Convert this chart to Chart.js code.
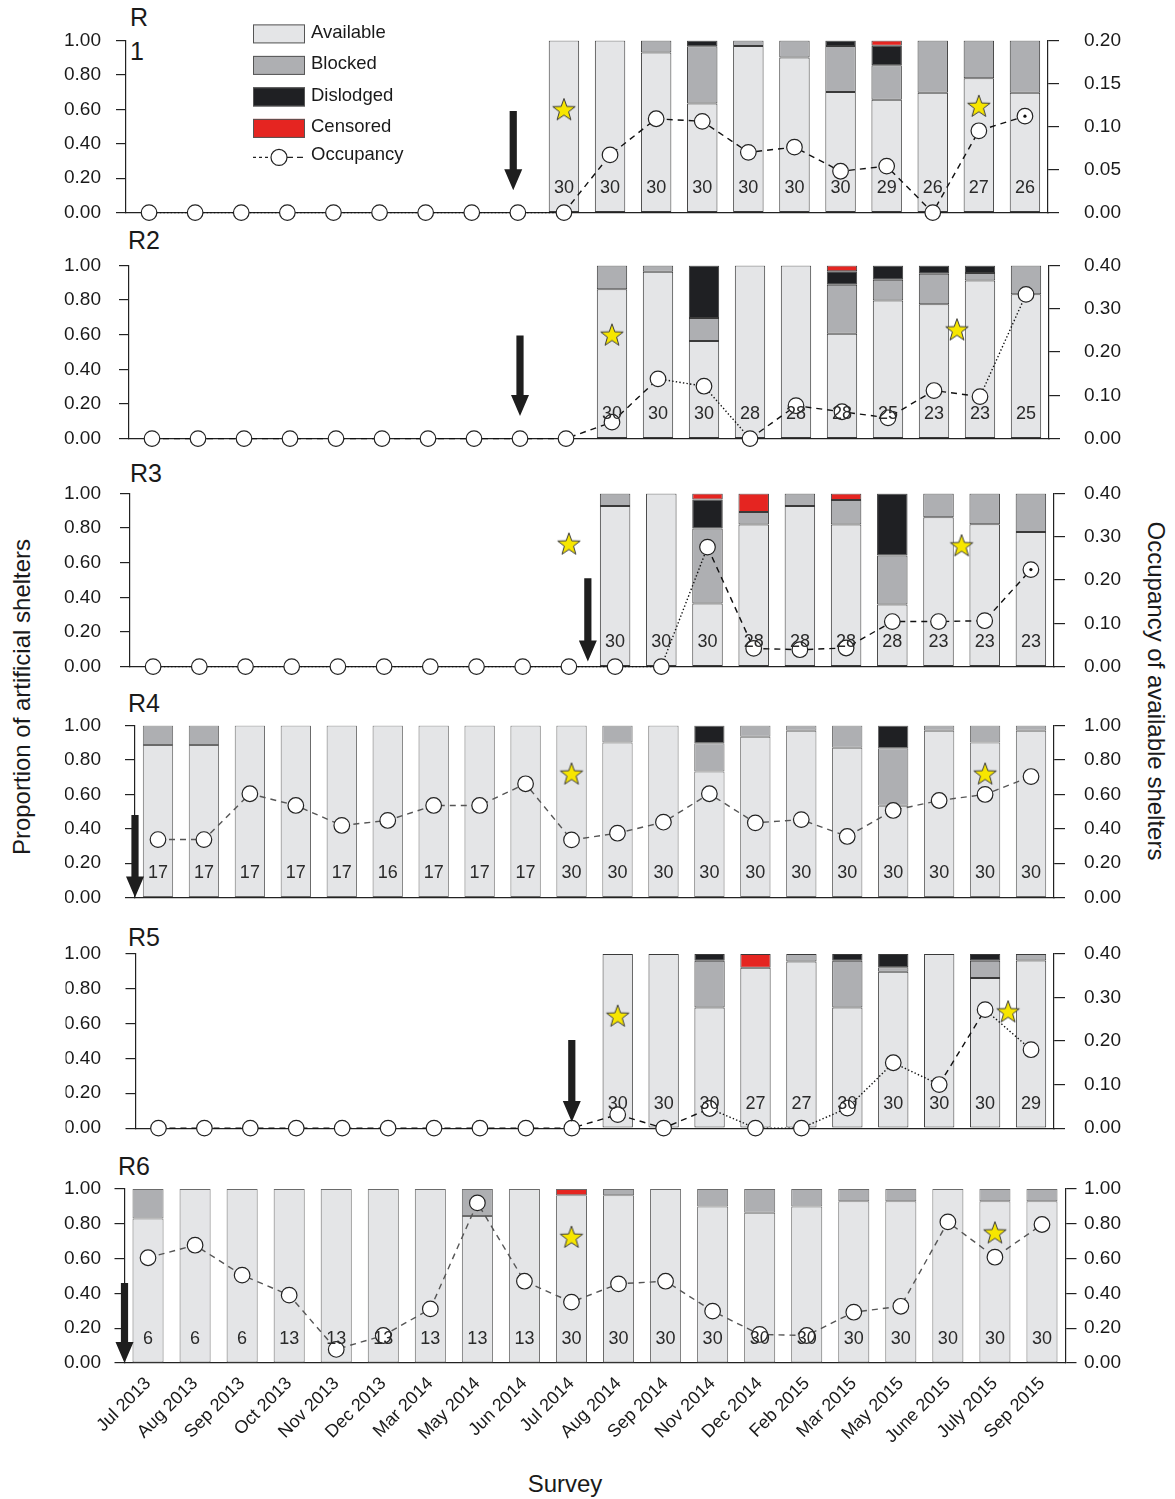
<!DOCTYPE html>
<html>
<head>
<meta charset="utf-8">
<script src="https://cdn.jsdelivr.net/npm/chart.js@4.4.1/dist/chart.umd.min.js"></script>
<style>
  body { margin: 0; background: #fff; width: 1175px; height: 1499px; position: relative; overflow: hidden;
         font-family: "Liberation Sans", Arial, sans-serif; color: #1a1a1a; }
  canvas { position: absolute; left: 0; }
  .ttl { position: absolute; font-size: 25px; line-height: 1; }
  .axt { position: absolute; font-size: 24px; line-height: 1; white-space: nowrap; }
</style>
</head>
<body>
<div class="ttl" style="left:130px;top:0;line-height:34px">R<br>1</div>
<div class="ttl" style="left:128px;top:228px">R2</div>
<div class="ttl" style="left:130px;top:461px">R3</div>
<div class="ttl" style="left:128px;top:691px">R4</div>
<div class="ttl" style="left:128px;top:925px">R5</div>
<div class="ttl" style="left:118px;top:1154px">R6</div>
<div class="axt" style="left:22px;top:697px;transform:translate(-50%,-50%) rotate(-90deg)">Proportion of artificial shelters</div>
<div class="axt" style="left:1156px;top:691px;transform:translate(-50%,-50%) rotate(90deg)">Occupancy of available shelters</div>
<div class="axt" style="left:565px;top:1472px;transform:translateX(-50%)">Survey</div>
<script>
const surveys = ['Jul 2013', 'Aug 2013', 'Sep 2013', 'Oct 2013', 'Nov 2013', 'Dec 2013', 'Mar 2014', 'May 2014',
  'Jun 2014', 'Jul 2014', 'Aug 2014', 'Sep 2014', 'Nov 2014', 'Dec 2014', 'Feb 2015', 'Mar 2015', 'May 2015',
  'June 2015', 'July 2015', 'Sep 2015'];

// R1
const r1Available = [null, null, null, null, null, null, null, null, null, 1, 1, 0.93, 0.633, 0.967, 0.9, 0.70, 0.655, 0.696, 0.78, 0.696];
const r1Blocked   = [null, null, null, null, null, null, null, null, null, 0, 0, 0.07, 0.333, 0.033, 0.1, 0.267, 0.2, 0.304, 0.22, 0.304];
const r1Dislodged = [null, null, null, null, null, null, null, null, null, 0, 0, 0, 0.034, 0, 0, 0.033, 0.114, 0, 0, 0];
const r1Censored  = [null, null, null, null, null, null, null, null, null, 0, 0, 0, 0, 0, 0, 0, 0.031, 0, 0, 0];
const r1N         = [null, null, null, null, null, null, null, null, null, 30, 30, 30, 30, 30, 30, 30, 29, 26, 27, 26];
const r1Occupancy = [0, 0, 0, 0, 0, 0, 0, 0, 0, 0, 0.067, 0.109, 0.106, 0.070, 0.076, 0.048, 0.054, 0, 0.095, 0.112];
const r1Stars = [[9, 0.60], [18, 0.62]];
const r1Arrow = [7.9, 0.59, 0.13];

// R2
const r2Available = [null, null, null, null, null, null, null, null, null, null, 0.862, 0.963, 0.563, 1, 1, 0.606, 0.798, 0.775, 0.913, 0.833];
const r2Blocked   = [null, null, null, null, null, null, null, null, null, null, 0.138, 0.037, 0.133, 0, 0, 0.283, 0.119, 0.177, 0.043, 0.167];
const r2Dislodged = [null, null, null, null, null, null, null, null, null, null, 0, 0, 0.304, 0, 0, 0.077, 0.083, 0.048, 0.044, 0];
const r2Censored  = [null, null, null, null, null, null, null, null, null, null, 0, 0, 0, 0, 0, 0.034, 0, 0, 0, 0];
const r2N         = [null, null, null, null, null, null, null, null, null, null, 30, 30, 30, 28, 28, 28, 25, 23, 23, 25];
const r2Occupancy = [0, 0, 0, 0, 0, 0, 0, 0, 0, 0, 0.038, 0.138, 0.121, 0, 0.076, 0.062, 0.048, 0.111, 0.097, 0.333];
const r2Stars = [[10, 0.60], [17.5, 0.63]];
const r2Arrow = [8, 0.595, 0.13];

// R3
const r3Available = [null, null, null, null, null, null, null, null, null, null, 0.927, 1, 0.365, 0.821, 0.927, 0.82, 0.359, 0.862, 0.822, 0.777];
const r3Blocked   = [null, null, null, null, null, null, null, null, null, null, 0.073, 0, 0.432, 0.071, 0.073, 0.142, 0.282, 0.138, 0.178, 0.223];
const r3Dislodged = [null, null, null, null, null, null, null, null, null, null, 0, 0, 0.168, 0, 0, 0, 0.359, 0, 0, 0];
const r3Censored  = [null, null, null, null, null, null, null, null, null, null, 0, 0, 0.035, 0.108, 0, 0.038, 0, 0, 0, 0];
const r3N         = [null, null, null, null, null, null, null, null, null, null, 30, 30, 30, 28, 28, 28, 28, 23, 23, 23];
const r3Occupancy = [0, 0, 0, 0, 0, 0, 0, 0, 0, 0, 0, 0, 0.276, 0.042, 0.039, 0.043, 0.104, 0.104, 0.106, 0.224];
const r3Stars = [[9, 0.71], [17.5, 0.70]];
const r3Arrow = [9.41, 0.51, 0.03];

// R4
const r4Available = [0.886, 0.886, 1, 1, 1, 1, 1, 1, 1, 1, 0.9, 1, 0.733, 0.934, 0.969, 0.87, 0.534, 0.969, 0.9, 0.969];
const r4Blocked   = [0.114, 0.114, 0, 0, 0, 0, 0, 0, 0, 0, 0.1, 0, 0.163, 0.066, 0.031, 0.13, 0.334, 0.031, 0.1, 0.031];
const r4Dislodged = [0, 0, 0, 0, 0, 0, 0, 0, 0, 0, 0, 0, 0.104, 0, 0, 0, 0.132, 0, 0, 0];
const r4Censored  = [0, 0, 0, 0, 0, 0, 0, 0, 0, 0, 0, 0, 0, 0, 0, 0, 0, 0, 0, 0];
const r4N         = [17, 17, 17, 17, 17, 16, 17, 17, 17, 30, 30, 30, 30, 30, 30, 30, 30, 30, 30, 30];
const r4Occupancy = [0.337, 0.337, 0.603, 0.535, 0.419, 0.448, 0.535, 0.535, 0.661, 0.335, 0.374, 0.438, 0.603, 0.434, 0.453, 0.355, 0.506, 0.564, 0.599, 0.703];
const r4Stars = [[9, 0.72], [18, 0.72]];
const r4Arrow = [-0.5, 0.48, 0];

// R5
const r5Available = [null, null, null, null, null, null, null, null, null, null, 1, 1, 0.692, 0.92, 0.956, 0.692, 0.897, 1, 0.862, 0.962];
const r5Blocked   = [null, null, null, null, null, null, null, null, null, null, 0, 0, 0.268, 0, 0.044, 0.268, 0.027, 0, 0.098, 0.038];
const r5Dislodged = [null, null, null, null, null, null, null, null, null, null, 0, 0, 0.04, 0, 0, 0.04, 0.076, 0, 0.04, 0];
const r5Censored  = [null, null, null, null, null, null, null, null, null, null, 0, 0, 0, 0.08, 0, 0, 0, 0, 0, 0];
const r5N         = [null, null, null, null, null, null, null, null, null, null, 30, 30, 30, 27, 27, 30, 30, 30, 30, 29];
const r5Occupancy = [0, 0, 0, 0, 0, 0, 0, 0, 0, 0, 0.031, 0, 0.045, 0, 0, 0.046, 0.15, 0.10, 0.272, 0.18];
const r5Stars = [[10, 0.645], [18.5, 0.67]];
const r5Arrow = [9, 0.506, 0.035];

// R6
const r6Available = [0.83, 1, 1, 1, 1, 1, 1, 0.845, 1, 0.964, 0.964, 1, 0.9, 0.864, 0.9, 0.93, 0.93, 1, 0.93, 0.93];
const r6Blocked   = [0.17, 0, 0, 0, 0, 0, 0, 0.155, 0, 0, 0.036, 0, 0.1, 0.136, 0.1, 0.07, 0.07, 0, 0.07, 0.07];
const r6Dislodged = [0, 0, 0, 0, 0, 0, 0, 0, 0, 0, 0, 0, 0, 0, 0, 0, 0, 0, 0, 0];
const r6Censored  = [0, 0, 0, 0, 0, 0, 0, 0, 0, 0.036, 0, 0, 0, 0, 0, 0, 0, 0, 0, 0];
const r6N         = [6, 6, 6, 13, 13, 13, 13, 13, 13, 30, 30, 30, 30, 30, 30, 30, 30, 30, 30, 30];
const r6Occupancy = [0.605, 0.677, 0.505, 0.39, 0.078, 0.158, 0.311, 0.92, 0.47, 0.35, 0.455, 0.47, 0.298, 0.164, 0.158, 0.292, 0.326, 0.811, 0.608, 0.796];
const r6Stars = [[9, 0.725], [18, 0.75]];
const r6Arrow = [-0.5, 0.46, 0];

const occMax  = [0.20, 0.40, 0.40, 1.00, 0.40, 1.00];
const occStep = [0.05, 0.10, 0.10, 0.20, 0.10, 0.20];

// layout and line styles (o = dotted segment, d = dashed segment)
const boxes = [
  { top: 40, bottom: 212, left: 126, right: 1048 },
  { top: 265, bottom: 438, left: 129, right: 1049 },
  { top: 493, bottom: 666, left: 130, right: 1054 },
  { top: 725, bottom: 897, left: 135, right: 1054 },
  { top: 954, bottom: 1128, left: 135.5, right: 1054 },
  { top: 1189, bottom: 1363, left: 124.5, right: 1065.5 }
];
const segStyle = [
  'ooooooooodddddddddd',
  'dddddddddddoodddddo',
  'ooooooooooooddddddd',
  'ddddddddddddddddddd',
  'ddddddddddddooooodo',
  'ddddddddddddddddddd'
];
const lineColor = ['#111', '#111', '#111', '#555', '#111', '#555'];
const centerDot = [true, false, true, false, false, false];

const panels = [
  [r1Available, r1Blocked, r1Dislodged, r1Censored, r1N, r1Occupancy, r1Stars, r1Arrow],
  [r2Available, r2Blocked, r2Dislodged, r2Censored, r2N, r2Occupancy, r2Stars, r2Arrow],
  [r3Available, r3Blocked, r3Dislodged, r3Censored, r3N, r3Occupancy, r3Stars, r3Arrow],
  [r4Available, r4Blocked, r4Dislodged, r4Censored, r4N, r4Occupancy, r4Stars, r4Arrow],
  [r5Available, r5Blocked, r5Dislodged, r5Censored, r5N, r5Occupancy, r5Stars, r5Arrow],
  [r6Available, r6Blocked, r6Dislodged, r6Censored, r6N, r6Occupancy, r6Stars, r6Arrow]
];

const FONT = '"Liberation Sans", Arial, sans-serif';
Chart.defaults.font.family = FONT;
Chart.defaults.font.size = 19;
Chart.defaults.color = '#1a1a1a';

function makeStar() {
  const c = document.createElement('canvas');
  c.width = 26; c.height = 26;
  const g = c.getContext('2d');
  g.beginPath();
  for (let k = 0; k < 10; k++) {
    const r = k % 2 ? 4.8 : 11.8;
    const a = -Math.PI / 2 + k * Math.PI / 5;
    g.lineTo(13 + r * Math.cos(a), 14 + r * Math.sin(a));
  }
  g.closePath();
  g.fillStyle = '#f7e600';
  g.fill();
  g.strokeStyle = '#3a3a3a';
  g.lineWidth = 1;
  g.stroke();
  return c;
}
const starImg = makeStar();

const countLabels = {
  id: 'countLabels',
  afterDatasetsDraw(chart, args, opts) {
    const { ctx, scales: { x, y } } = chart;
    ctx.save();
    ctx.font = '18px ' + FONT;
    ctx.fillStyle = '#2a2a2a';
    ctx.textAlign = 'center';
    ctx.textBaseline = 'middle';
    opts.n.forEach((v, i) => {
      if (v != null) ctx.fillText(String(v), x.getPixelForValue(i), y.getPixelForValue(0.14));
    });
    if (opts.dot) {
      const meta = chart.getDatasetMeta(4);
      const pt = meta.data[meta.data.length - 1];
      ctx.beginPath();
      ctx.arc(pt.x, pt.y, 1.6, 0, Math.PI * 2);
      ctx.fillStyle = '#111';
      ctx.fill();
    }
    ctx.restore();
  }
};

const arrows = {
  id: 'arrows',
  afterDatasetsDraw(chart, args, opts) {
    const { ctx, scales: { xs, y } } = chart;
    const [ax, a0, a1] = opts.arrow;
    const x = xs.getPixelForValue(ax), yTop = y.getPixelForValue(a0), yTip = y.getPixelForValue(a1);
    const shaft = 3.6, head = 9, headLen = 21;
    ctx.save();
    ctx.fillStyle = '#1e1e1e';
    ctx.beginPath();
    ctx.moveTo(x - shaft, yTop);
    ctx.lineTo(x + shaft, yTop);
    ctx.lineTo(x + shaft, yTip - headLen);
    ctx.lineTo(x + head, yTip - headLen);
    ctx.lineTo(x, yTip);
    ctx.lineTo(x - head, yTip - headLen);
    ctx.lineTo(x - shaft, yTip - headLen);
    ctx.closePath();
    ctx.fill();
    ctx.restore();
  }
};

const legendBox = {
  id: 'legendBox',
  afterDraw(chart, args, opts) {
    if (!opts.show) return;
    const { ctx, chartArea } = chart;
    const x0 = chartArea.left + 127, y0 = chartArea.top - 16;
    ctx.save();
    ctx.font = '18.5px ' + FONT;
    ctx.textBaseline = 'middle';
    const sets = chart.data.datasets;
    for (let k = 0; k < 4; k++) {
      const yy = y0 + k * 31.5;
      ctx.fillStyle = sets[k].backgroundColor;
      ctx.fillRect(x0, yy, 52, 19);
      ctx.strokeStyle = '#555';
      ctx.lineWidth = 1;
      ctx.strokeRect(x0 + 0.5, yy + 0.5, 51, 18);
      ctx.fillStyle = '#1a1a1a';
      ctx.fillText(sets[k].label, x0 + 58, yy + 8.5);
    }
    const yo = y0 + 133;
    ctx.strokeStyle = '#222';
    ctx.lineWidth = 1.3;
    ctx.setLineDash([3, 3]);
    ctx.beginPath(); ctx.moveTo(x0, yo); ctx.lineTo(x0 + 18, yo); ctx.stroke();
    ctx.setLineDash([6, 4]);
    ctx.beginPath(); ctx.moveTo(x0 + 34, yo); ctx.lineTo(x0 + 52, yo); ctx.stroke();
    ctx.setLineDash([]);
    ctx.beginPath(); ctx.arc(x0 + 26, yo, 8, 0, Math.PI * 2);
    ctx.fillStyle = '#fff'; ctx.fill(); ctx.lineWidth = 1.2; ctx.stroke();
    ctx.fillStyle = '#1a1a1a';
    ctx.fillText(sets[4].label, x0 + 58, yo - 2);
    ctx.restore();
  }
};

const barColors = ['#e4e5e7', '#aeafb2', '#1f2023', '#e52521'];
const barNames = ['Available', 'Blocked', 'Dislodged', 'Censored'];
const PT = 30, PB = 12;

function makeConfig(p, i, xh) {
  const box = boxes[i];
  const last = i === panels.length - 1;
  const style = segStyle[i];
  const datasets = barNames.map((name, k) => ({
    type: 'bar',
    label: name,
    data: p[k].map(v => (v ? v : null)),
    backgroundColor: barColors[k],
    borderColor: i === 3 || i === 5 ? '#6a6a6a' : '#3a3a3a',
    borderWidth: 1,
    borderSkipped: false,
    barPercentage: 0.66,
    categoryPercentage: 1,
    grouped: false,
    xAxisID: 'x',
    yAxisID: 'y',
    order: 3
  }));
  datasets.push({
    type: 'line',
    label: 'Occupancy',
    data: p[5],
    xAxisID: 'x',
    yAxisID: 'y1',
    borderColor: lineColor[i],
    borderWidth: 1.4,
    tension: 0,
    clip: false,
    pointRadius: 7.8,
    pointBackgroundColor: '#fff',
    pointBorderColor: '#222',
    pointBorderWidth: 1.2,
    segment: {
      borderDash: ctx => (style[ctx.p0DataIndex] === 'o' ? [1.4, 2.2] : [6, 5])
    },
    order: 1
  });
  datasets.push({
    type: 'line',
    label: 'stars',
    data: p[6].map(s => ({ x: s[0], y: s[1] })),
    xAxisID: 'xs',
    yAxisID: 'y',
    showLine: false,
    pointStyle: starImg,
    pointRadius: 12,
    clip: false,
    order: 0
  });

  return {
    type: 'bar',
    data: { labels: surveys, datasets },
    options: {
      responsive: false,
      devicePixelRatio: 1,
      animation: false,
      events: [],
      layout: { padding: { left: box.left - 70, right: 1175 - box.right - 90, top: PT, bottom: PB } },
      plugins: {
        legend: { display: false },
        tooltip: { enabled: false },
        countLabels: { n: p[4], dot: centerDot[i] },
        arrows: { arrow: p[7] },
        legendBox: { show: i === 0 }
      },
      scales: {
        x: {
          type: 'category',
          stacked: true,
          offset: true,
          grid: { display: false },
          border: { display: true, color: '#222', width: 1.2 },
          ticks: { display: last, autoSkip: false, minRotation: 45, maxRotation: 45, padding: 2, font: { size: 18 } },
          afterFit: s => { s.height = xh; }
        },
        xs: { type: 'linear', min: -0.5, max: 19.5, offset: false, display: false },
        y: {
          stacked: true,
          min: 0,
          max: 1,
          ticks: { stepSize: 0.2, padding: box.left - 101 - 10, callback: v => v.toFixed(2) },
          grid: { drawOnChartArea: false, tickLength: 10, color: '#222', lineWidth: 1.2 },
          border: { color: '#222', width: 1.2 },
          afterFit: s => { s.width = 70; }
        },
        y1: {
          position: 'right',
          min: 0,
          max: occMax[i],
          ticks: { stepSize: occStep[i], padding: 1084 - box.right - 11, callback: v => v.toFixed(2) },
          grid: { drawOnChartArea: false, tickLength: 11, color: '#222', lineWidth: 1.2 },
          border: { color: '#222', width: 1.2 },
          afterFit: s => { s.width = 90; }
        }
      }
    },
    plugins: [countLabels, arrows, legendBox]
  };
}

function makeCanvas(h, top) {
  const canvas = document.createElement('canvas');
  canvas.width = 1175;
  canvas.height = h;
  canvas.style.top = top + 'px';
  document.body.appendChild(canvas);
  return canvas;
}

panels.forEach((p, i) => {
  const box = boxes[i];
  const xh = i === panels.length - 1 ? 110 : 2;
  const H = Math.round(box.bottom - box.top + PT + PB + xh);
  let canvas = makeCanvas(H, box.top - PT);
  let chart = new Chart(canvas.getContext('2d'), makeConfig(p, i, xh));
  // second pass: keep the plot area where the reference has it
  const a = chart.chartArea.top, b = H - chart.chartArea.bottom;
  if (Math.abs(a - PT) > 0.5 || Math.abs(b - (PB + xh)) > 0.5) {
    chart.destroy();
    canvas.remove();
    const H2 = Math.round(box.bottom - box.top + a + b);
    canvas = makeCanvas(H2, box.top - a);
    chart = new Chart(canvas.getContext('2d'), makeConfig(p, i, xh));
  }
});
</script>
</body>
</html>
